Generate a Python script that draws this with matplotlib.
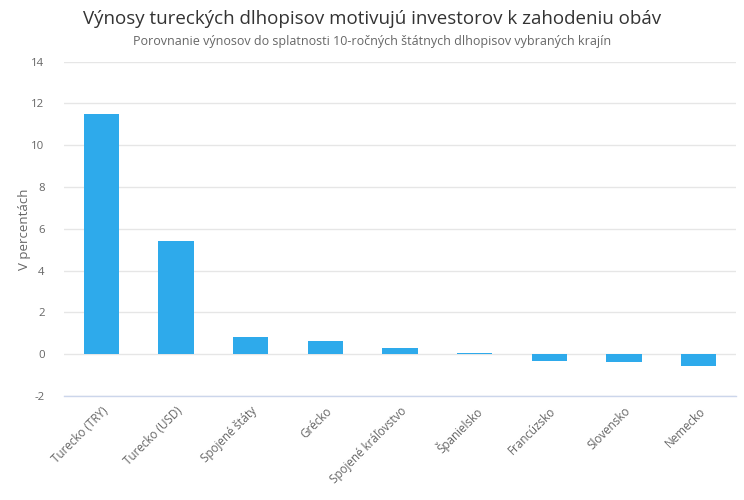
import matplotlib.pyplot as plt

plt.rcParams['font.family'] = ['Open Sans', 'DejaVu Sans']
plt.rcParams['axes.unicode_minus'] = False

# Data
countries = ['Turecko (TRY)', 'Turecko (USD)', 'Spojené štáty', 'Grécko',
             'Spojené kráľovstvo', 'Španielsko', 'Francúzsko', 'Slovensko', 'Nemecko']
yields = [11.47, 5.42, 0.83, 0.64, 0.30, 0.06, -0.32, -0.37, -0.56]
yticks = [-2, 0, 2, 4, 6, 8, 10, 12, 14]

fig = plt.figure(figsize=(7.44, 5.0), dpi=100)
ax = fig.add_axes([64 / 744, 104 / 500, 672 / 744, 334.5 / 500])

x = range(len(countries))
ax.bar(x, yields, width=0.47, color='#2eaaeb', zorder=3)

ax.set_xlim(-0.5, len(countries) - 0.5)
ax.set_ylim(-2, 14)
ax.set_yticks(yticks)
ax.grid(axis='y', color='#e6e6e6', linewidth=1, zorder=0)
for s in ['top', 'right', 'left']:
    ax.spines[s].set_visible(False)
ax.spines['bottom'].set_color('#ccd6eb')
ax.spines['bottom'].set_linewidth(1)
ax.tick_params(axis='y', length=0, pad=14, labelsize=8.2, labelcolor='#666666')
ax.tick_params(axis='x', length=0, pad=6, labelsize=8.4, labelcolor='#666666')
ax.set_xticks(list(x))
ax.set_xticklabels(countries, rotation=45, ha='right', va='top', rotation_mode='anchor')
ax.set_ylabel('V percentách', fontsize=9.5, color='#666666', labelpad=0)

fig.text(0.5, 0.963, 'Výnosy tureckých dlhopisov motivujú investorov k zahodeniu obáv',
         ha='center', va='center', fontsize=13.5, color='#333333')
fig.text(0.5, 0.916, 'Porovnanie výnosov do splatnosti 10-ročných štátnych dlhopisov vybraných krajín',
         ha='center', va='center', fontsize=9, color='#666666')

fig.savefig('out.png', dpi=100)
